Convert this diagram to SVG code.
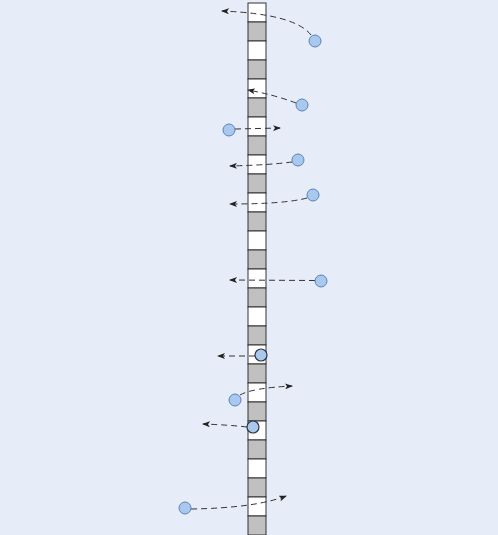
<svg xmlns="http://www.w3.org/2000/svg" width="498" height="535" viewBox="0 0 498 535">
<style>
.w{fill:#ffffff;stroke:#333333;stroke-width:1}
.g{fill:#c0c0c0;stroke:#333333;stroke-width:1}
.c{fill:#a8c8ee;stroke:#5b80b8;stroke-width:1}
.c2{fill:#a8c8ee;stroke:#2e3440;stroke-width:1.2}
.a{fill:none;stroke:#333333;stroke-width:1;stroke-dasharray:6 4;marker-end:url(#ah)}
</style>
<defs>
<marker id="ah" viewBox="0 0 8 6" refX="7" refY="3" markerWidth="8" markerHeight="6" markerUnits="userSpaceOnUse" orient="auto">
<path d="M0,0 L8,3 L0,6 L2,3 z" fill="#222222"/>
</marker>
</defs>
<rect width="498" height="535" fill="#e6edf8"/>
<g id="strip">
<rect class="w" x="248" y="3" width="18" height="19"/>
<rect class="g" x="248" y="22" width="18" height="19"/>
<rect class="w" x="248" y="41" width="18" height="19"/>
<rect class="g" x="248" y="60" width="18" height="19"/>
<rect class="w" x="248" y="79" width="18" height="19"/>
<rect class="g" x="248" y="98" width="18" height="19"/>
<rect class="w" x="248" y="117" width="18" height="19"/>
<rect class="g" x="248" y="136" width="18" height="19"/>
<rect class="w" x="248" y="155" width="18" height="19"/>
<rect class="g" x="248" y="174" width="18" height="19"/>
<rect class="w" x="248" y="193" width="18" height="19"/>
<rect class="g" x="248" y="212" width="18" height="19"/>
<rect class="w" x="248" y="231" width="18" height="19"/>
<rect class="g" x="248" y="250" width="18" height="19"/>
<rect class="w" x="248" y="269" width="18" height="19"/>
<rect class="g" x="248" y="288" width="18" height="19"/>
<rect class="w" x="248" y="307" width="18" height="19"/>
<rect class="g" x="248" y="326" width="18" height="19"/>
<rect class="w" x="248" y="345" width="18" height="19"/>
<rect class="g" x="248" y="364" width="18" height="19"/>
<rect class="w" x="248" y="383" width="18" height="19"/>
<rect class="g" x="248" y="402" width="18" height="19"/>
<rect class="w" x="248" y="421" width="18" height="19"/>
<rect class="g" x="248" y="440" width="18" height="19"/>
<rect class="w" x="248" y="459" width="18" height="19"/>
<rect class="g" x="248" y="478" width="18" height="19"/>
<rect class="w" x="248" y="497" width="18" height="19"/>
<rect class="g" x="248" y="516" width="18" height="19"/>
</g>
<g id="connectors">
<path class="a" d="M311,35 Q295,14 222,11"/>
<path class="a" d="M296,103 Q275,95 248,90"/>
<path class="a" d="M235,129 L280,128"/>
<path class="a" d="M292,162 Q270,165 230,166"/>
<path class="a" d="M307,198 Q285,204 230,204"/>
<path class="a" d="M315,280.5 L230,280"/>
<path class="a" d="M255,356 L218,356"/>
<path class="a" d="M240,395 Q252,388 292,386"/>
<path class="a" d="M247,427 Q230,425 203,424"/>
<path class="a" d="M191,509 Q255,508 286,496"/>
</g>
<g id="p1"><circle class="c" cx="315" cy="41" r="6"/></g>
<g id="p2"><circle class="c" cx="302" cy="105" r="6"/></g>
<g id="p3"><circle class="c" cx="229" cy="130" r="6"/></g>
<g id="p4"><circle class="c" cx="298" cy="160" r="6"/></g>
<g id="p5"><circle class="c" cx="313" cy="195" r="6"/></g>
<g id="p6"><circle class="c" cx="321" cy="281" r="6"/></g>
<g id="p7"><circle class="c2" cx="261" cy="355" r="6"/></g>
<g id="p8"><circle class="c" cx="235" cy="400" r="6"/></g>
<g id="p9"><circle class="c2" cx="253" cy="427" r="6"/></g>
<g id="p10"><circle class="c" cx="185" cy="508" r="6"/></g>
</svg>
